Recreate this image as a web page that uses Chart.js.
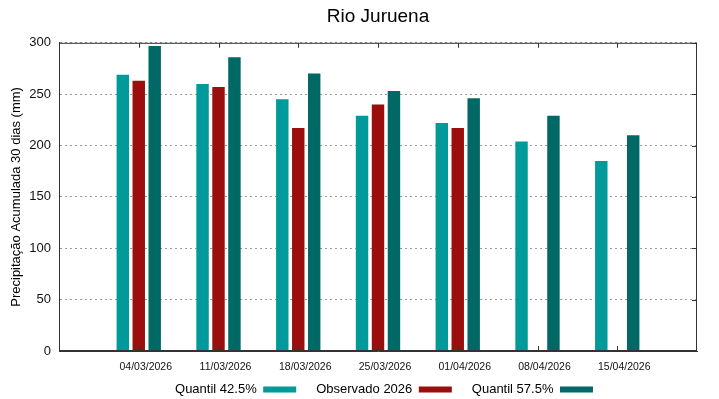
<!DOCTYPE html>
<html>
<head>
<meta charset="utf-8">
<title>Rio Juruena</title>
<script src="https://cdn.jsdelivr.net/npm/chart.js@4.4.1/dist/chart.umd.min.js"></script>
<style>
  html, body { margin: 0; padding: 0; background: #fff; }
  #wrap { width: 719px; height: 399px; }
</style>
</head>
<body>
<div id="wrap"><canvas id="chart" width="719" height="399"></canvas></div>
<script>
// Data
const dates = ['04/03/2026', '11/03/2026', '18/03/2026', '25/03/2026', '01/04/2026', '08/04/2026', '15/04/2026'];
const quantil425 = [269, 260, 245, 229, 222, 204, 185];
const observado2026 = [263, 257, 217, 240, 217, null, null];
const quantil575 = [297, 286, 270, 253, 246, 229, 210];
const yTicks = [0, 50, 100, 150, 200, 250, 300];

// empty slot either side, like the gnuplot x range
const pad = arr => [null, ...arr, null];
const labels = ['', ...dates, ''];

Chart.defaults.font.family = '"Liberation Sans", Arial, sans-serif';
Chart.defaults.color = '#111';

// frame around the plot + inward ticks (gnuplot style)
const framePlugin = {
  id: 'frame',
  afterLayout(chart) {
    // key sits a bit right of the plot centre and tucked up under the dates
    const lg = chart.legend;
    lg.left += 6; lg.right += 6;
    lg.top -= 16; lg.bottom -= 16;
  },
  afterDraw(chart) {
    const { ctx, chartArea: a, scales } = chart;
    const line = (x1, y1, x2, y2) => { ctx.beginPath(); ctx.moveTo(x1, y1); ctx.lineTo(x2, y2); ctx.stroke(); };
    ctx.save();
    ctx.strokeStyle = '#333';
    ctx.lineWidth = 1;
    ctx.strokeRect(a.left + 0.5, a.top + 0.5, a.right - a.left - 1, a.bottom - a.top - 1);
    for (let i = 1; i <= dates.length; i++) {
      const x = Math.round(scales.x.getPixelForValue(i)) + 0.5;
      line(x, a.top, x, a.top + 5);
      line(x, a.bottom, x, a.bottom - 5);
    }
    yTicks.forEach(v => {
      const y = Math.round(scales.y.getPixelForValue(v)) + 0.5;
      line(a.right, y, a.right - 5, y);
    });
    ctx.restore();
  }
};

const ds = (label, data, color) => ({
  label, data: pad(data), backgroundColor: color, borderWidth: 0,
  categoryPercentage: 0.6, barPercentage: 0.78
});

new Chart(document.getElementById('chart').getContext('2d'), {
  type: 'bar',
  data: {
    labels: labels,
    datasets: [
      ds('Quantil 42.5%', quantil425, '#009a9a'),
      ds('Observado 2026', observado2026, '#9a0e0e'),
      ds('Quantil 57.5%', quantil575, '#006865')
    ]
  },
  options: {
    responsive: false, devicePixelRatio: 1, animation: false,
    layout: { padding: { left: 5, right: 22, top: 0, bottom: -23 } },
    plugins: {
      title: {
        display: true, text: 'Rio Juruena', fullSize: false,
        font: { size: 19, weight: 'normal' }, color: '#000',
        padding: { top: 5, bottom: 15 }
      },
      legend: {
        position: 'bottom', fullSize: false, rtl: true, reverse: true, textDirection: 'ltr',
        labels: { boxWidth: 33, boxHeight: 6, padding: 20, font: { size: 13 }, color: '#000' }
      },
      tooltip: { enabled: false }
    },
    scales: {
      x: {
        offset: false,
        grid: { display: false, drawTicks: false },
        border: { display: true, color: '#333' },
        ticks: { font: { size: 10.5 }, labelOffset: 7, padding: 10, maxRotation: 0, autoSkip: false },
        afterFit: s => { s.height = 28; }
      },
      y: {
        min: 0, max: 300,
        grid: { color: '#999', drawTicks: false, lineWidth: 1 },
        border: { display: true, color: '#333', dash: [2, 3] },
        ticks: { stepSize: 50, font: { size: 13 }, padding: 8 },
        title: { display: true, text: 'Precipitação Acumulada 30 dias (mm)', font: { size: 13 }, color: '#000' },
        afterFit: s => { s.width = 54; }
      }
    }
  },
  plugins: [framePlugin]
});
</script>
</body>
</html>
